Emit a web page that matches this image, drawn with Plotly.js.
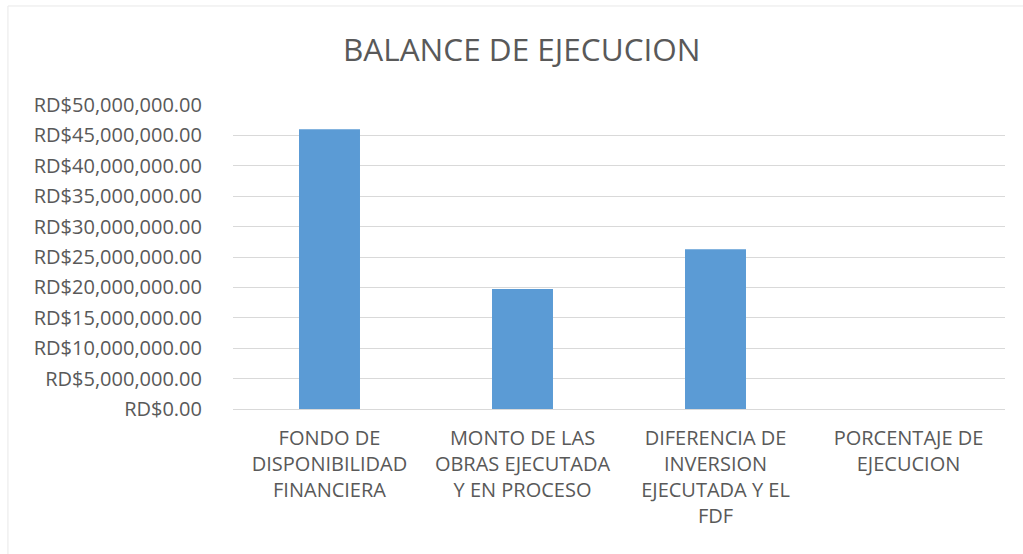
<!DOCTYPE html>
<html>
<head>
<meta charset="utf-8">
<script src="https://cdn.plot.ly/plotly-3.0.1.min.js"></script>
<style>html,body{margin:0;padding:0;background:#fff;}#chart{width:1023px;height:554px;}</style>
</head>
<body>
<div id="chart"></div>
<script>
var categories = [
  "FONDO DE<br>DISPONIBILIDAD<br>FINANCIERA",
  "MONTO DE LAS<br>OBRAS EJECUTADA<br>Y EN PROCESO",
  "DIFERENCIA DE<br>INVERSION<br>EJECUTADA Y EL<br>FDF",
  "PORCENTAJE DE<br>EJECUCION"
];
var values = [46000000, 19730000, 26270000, 0.43];
var titleText = "BALANCE DE EJECUCION";
var fontFam = "Open Sans, Lato, sans-serif";

var trace = {
  type: "bar",
  x: categories,
  y: values,
  marker: {color: "#5b9bd5"},
  hoverinfo: "x+y"
};

var layout = {
  width: 1023, height: 554,
  paper_bgcolor: "#ffffff", plot_bgcolor: "#ffffff",
  margin: {l: 233, r: 18, t: 105, b: 145},
  bargap: 0.684,
  showlegend: false,
  title: {text: titleText, font: {family: fontFam, size: 31.5, color: "#595959"}, x: 0.51, xanchor: "center", y: 0.91, yanchor: "middle"},
  xaxis: {
    tickfont: {family: fontFam, size: 20, color: "#595959"},
    showgrid: false, zeroline: false, showline: false,
    ticks: "outside", ticklen: 11, tickcolor: "rgba(0,0,0,0)"
  },
  yaxis: {
    range: [0, 50000000], dtick: 5000000, tick0: 0,
    tickprefix: "RD$", tickformat: ",.2f",
    tickfont: {family: fontFam, size: 20, color: "#595959"},
    gridcolor: "#d9d9d9", gridwidth: 1,
    zeroline: true, zerolinecolor: "#d9d9d9", zerolinewidth: 1,
    showline: false,
    ticks: "outside", ticklen: 26, tickcolor: "rgba(0,0,0,0)"
  },
  shapes: [{
    type: "rect", xref: "paper", yref: "paper",
    x0: -0.2915, x1: 1.04, y0: -0.5, y1: 1.3257,
    line: {color: "#e8e8e8", width: 1}, fillcolor: "rgba(0,0,0,0)", layer: "below"
  }],
  font: {family: fontFam, color: "#595959"}
};

Plotly.newPlot("chart", [trace], layout, {displayModeBar: false, staticPlot: true});
</script>
</body>
</html>
